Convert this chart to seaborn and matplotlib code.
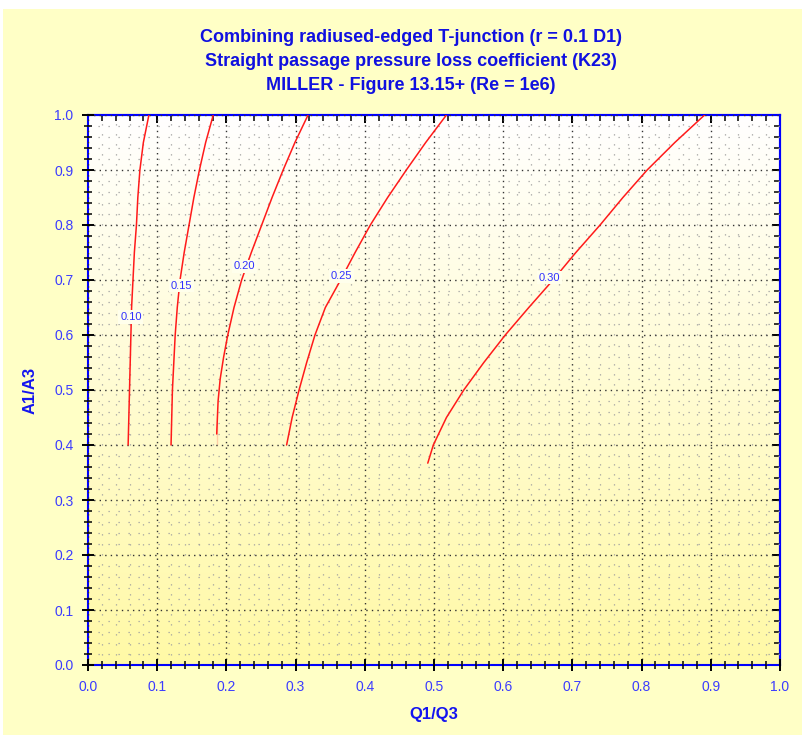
import matplotlib
matplotlib.use("Agg")
import matplotlib.pyplot as plt
import seaborn as sns
import numpy as np
import pandas as pd
from matplotlib.ticker import MultipleLocator, NullFormatter
from matplotlib.patches import Rectangle
from matplotlib.colors import LinearSegmentedColormap

sns.set_theme(style="white")
plt.rcParams["font.family"] = ["Liberation Sans", "DejaVu Sans"]

# ── data ────────────────────────────────────────────────────────────────────
levels = ["0.10", "0.15", "0.20", "0.25", "0.30"]

a_010 = [0.40, 0.45, 0.50, 0.55, 0.60, 0.65, 0.70, 0.75, 0.80, 0.85, 0.90, 0.95, 1.00]
q_010 = [0.058, 0.059, 0.060, 0.061, 0.062, 0.063, 0.065, 0.067, 0.070, 0.072, 0.075, 0.080, 0.088]

a_015 = [0.40, 0.45, 0.50, 0.55, 0.60, 0.65, 0.70, 0.75, 0.80, 0.85, 0.90, 0.95, 1.00]
q_015 = [0.120, 0.121, 0.122, 0.124, 0.126, 0.129, 0.133, 0.139, 0.146, 0.153, 0.161, 0.170, 0.181]

a_020 = [0.40, 0.44, 0.48, 0.52, 0.56, 0.60, 0.65, 0.70, 0.75, 0.80, 0.85, 0.90, 0.95, 1.00]
q_020 = [0.186, 0.186, 0.188, 0.191, 0.196, 0.202, 0.211, 0.222, 0.236, 0.251, 0.266, 0.282, 0.299, 0.318]

a_025 = [0.40, 0.45, 0.50, 0.55, 0.60, 0.65, 0.70, 0.75, 0.80, 0.85, 0.90, 0.95, 1.00]
q_025 = [0.287, 0.295, 0.305, 0.316, 0.328, 0.343, 0.365, 0.386, 0.408, 0.433, 0.460, 0.488, 0.518]

a_030 = [0.367, 0.40, 0.45, 0.50, 0.55, 0.60, 0.65, 0.70, 0.75, 0.80, 0.85, 0.90, 0.95, 1.00]
q_030 = [0.491, 0.499, 0.518, 0.543, 0.572, 0.603, 0.637, 0.672, 0.705, 0.740, 0.773, 0.808, 0.848, 0.891]

# label anchor points (Q1/Q3, A1/A3)
label_q = [0.062, 0.135, 0.226, 0.366, 0.667]
label_a = [0.633, 0.690, 0.725, 0.707, 0.704]

curves = [(q_010, a_010), (q_015, a_015), (q_020, a_020), (q_025, a_025), (q_030, a_030)]

title_lines = [
    "Combining radiused-edged T-junction (r = 0.1 D1)",
    "Straight passage pressure loss coefficient (K23)",
    "MILLER - Figure 13.15+ (Re = 1e6)",
]

# ── figure ──────────────────────────────────────────────────────────────────
fig = plt.figure(figsize=(8.03, 7.35), dpi=100, facecolor="white")
fig.patches.append(Rectangle((0.004, 0), 0.996, 1 - 9 / 735, transform=fig.transFigure,
                             facecolor="#FFFFC6", edgecolor="none", zorder=-10))
ax = fig.add_axes([88 / 803, 1 - 665 / 735, 692 / 803, 550 / 735])

# vertical gradient background
grad = LinearSegmentedColormap.from_list("bg", ["#FFF9A6", "#FFFFFF"])
ax.imshow(np.linspace(0, 1, 256).reshape(-1, 1), extent=[0, 1, 0, 1], origin="lower",
          cmap=grad, aspect="auto", zorder=0)

for (q, a), lab, lq, la in zip(curves, levels, label_q, label_a):
    df = pd.DataFrame({"Q1/Q3": q, "A1/A3": a})
    sns.lineplot(data=df, x="Q1/Q3", y="A1/A3", sort=False, color="#FF1A1A",
                 linewidth=1.1, ax=ax, zorder=3)
    ax.text(lq, la, lab, color="#3030FF", fontsize=8, ha="center", va="center", zorder=4,
            bbox=dict(boxstyle="square,pad=0.15", facecolor="#FFFFEC", edgecolor="none"))

ax.set_xlim(0, 1)
ax.set_ylim(0, 1)
ax.xaxis.set_major_locator(MultipleLocator(0.1))
ax.yaxis.set_major_locator(MultipleLocator(0.1))
ax.xaxis.set_minor_locator(MultipleLocator(0.02))
ax.yaxis.set_minor_locator(MultipleLocator(0.02))
ax.xaxis.set_major_formatter(lambda v, p: f"{v:.1f}")
ax.yaxis.set_major_formatter(lambda v, p: f"{v:.1f}")

ax.grid(which="major", color="#333333", linestyle=(0, (1, 3)), linewidth=1.0, zorder=1)
ax.grid(which="minor", color="#A0A0A0", linestyle=(0, (1, 7)), linewidth=0.9, zorder=1)
ax.set_axisbelow(False)

for s in ax.spines.values():
    s.set_color("#0000FF")
    s.set_linewidth(1.5)

ax.tick_params(which="major", direction="inout", length=9, width=1.4, color="black",
               labelcolor="#3C3CFF", labelsize=10, pad=6)
ax.tick_params(which="minor", direction="inout", length=6, width=1.1, color="black")
ax.tick_params(which="both", bottom=True, left=True, top=False, right=False)

# top / right: inward ticks only
for sec in (ax.secondary_xaxis("top"), ax.secondary_yaxis("right")):
    axis = sec.xaxis if hasattr(sec, "xaxis") and sec._orientation == "x" else sec.yaxis
    axis.set_major_locator(MultipleLocator(0.1))
    axis.set_minor_locator(MultipleLocator(0.02))
    axis.set_major_formatter(NullFormatter())
    sec.tick_params(which="major", direction="in", length=6, width=1.4, color="black")
    sec.tick_params(which="minor", direction="in", length=4, width=1.1, color="black")
    for s in sec.spines.values():
        s.set_color("#0000FF")
        s.set_linewidth(1.5)

ax.set_xlabel("Q1/Q3", color="#1414F0", fontsize=12, fontweight="bold", labelpad=10)
ax.set_ylabel("A1/A3", color="#1414F0", fontsize=12, fontweight="bold", labelpad=12)

for i, line in enumerate(title_lines):
    fig.text(411 / 803, 1 - (37 + 24 * i) / 735, line, ha="center", va="center",
             color="#1010E0", fontsize=13, fontweight="bold")

fig.savefig("out.png", dpi=100, facecolor=fig.get_facecolor())
